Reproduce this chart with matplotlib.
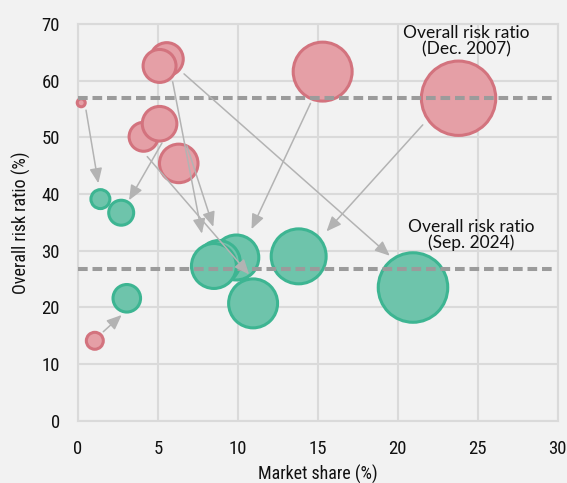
import matplotlib
matplotlib.use("Agg")
import matplotlib.pyplot as plt
from matplotlib import font_manager

# Market share (%), overall risk ratio (%) and bubble size, Dec. 2007
share_2007 = [0.2, 5.55, 5.1, 4.1, 5.1, 6.3, 15.3, 23.8, 1.05]
risk_2007 = [56.1, 63.8, 62.6, 50.1, 52.4, 45.4, 61.6, 56.9, 14.1]
size_2007 = [1.6, 27.2, 27.2, 21.0, 30.0, 37.2, 87.0, 138.4, 7.2]

# Market share (%), overall risk ratio (%) and bubble size, Sep. 2024
share_2024 = [1.4, 2.7, 3.05, 9.9, 8.8, 8.5, 10.95, 13.8, 20.95]
risk_2024 = [39.1, 36.7, 21.6, 28.8, 28.0, 27.3, 20.7, 29.0, 23.5]
size_2024 = [9.0, 15.6, 19.0, 50.6, 46.2, 50.6, 60.0, 75.6, 121.0]

# Overall risk ratio of the whole market
overall_2007 = 57.0
overall_2024 = 26.8

# Arrows from each 2007 position to its 2024 position
arrow_tail_x = [0.5, 1.58, 5.25, 4.33, 5.92, 6.81, 14.54, 21.56, 6.63]
arrow_tail_y = [54.8, 15.7, 49.0, 46.6, 59.8, 48.5, 56.0, 52.2, 61.2]
arrow_head_x = [1.27, 2.73, 3.19, 10.7, 7.75, 8.46, 10.85, 15.54, 19.5]
arrow_head_y = [41.9, 18.65, 38.9, 25.8, 33.0, 34.2, 33.8, 33.4, 29.1]

x_ticks = [0, 5, 10, 15, 20, 25, 30]
y_ticks = [0, 10, 20, 30, 40, 50, 60, 70]


def pick_narrow_font():
    """Return font properties for a narrow sans-serif face, best first."""
    entries = font_manager.fontManager.ttflist
    names = {f.name for f in entries}
    for fam in ("Liberation Sans Narrow", "Roboto Condensed", "Open Sans Condensed",
                "Noto Sans Condensed", "Noto Sans SemiCondensed", "Lato Condensed"):
        if fam in names:
            return dict(family=fam), 1.0
    for fam in ("Noto Sans", "Roboto", "Open Sans"):
        for f in entries:
            if f.name == fam and str(f.stretch) in ("condensed", "semi-condensed",
                                                      "extra-condensed", "75", "87.5"):
                return dict(family=fam, stretch=f.stretch), 1.0
    return dict(family="DejaVu Sans", stretch="condensed"), 0.92


axis_font, size_factor = pick_narrow_font()
installed = {f.name for f in font_manager.fontManager.ttflist}
note_font = "Lato" if "Lato" in installed else "DejaVu Sans"

BG = "#f2f2f2"
GRID = "#dadada"
RED_FILL, RED_EDGE = "#e59fa6", "#d3737e"
GREEN_FILL, GREEN_EDGE = "#6ec4ab", "#3db592"
DASH = "#9b9b9b"
ARROW = "#b3b3b3"
TEXT = "#111111"

fig = plt.figure(figsize=(5.67, 4.83), dpi=100, facecolor=BG)
ax = fig.add_axes([0.1376, 0.129, 0.8460, 0.8213], facecolor=BG)

scale = 20.7
ax.scatter(share_2007, risk_2007, s=[v * scale for v in size_2007],
           color=RED_FILL, edgecolors=RED_EDGE, linewidths=2.2,
           zorder=3, clip_on=False)
ax.scatter(share_2024, risk_2024, s=[v * scale for v in size_2024],
           color=GREEN_FILL, edgecolors=GREEN_EDGE, linewidths=2.2,
           zorder=3, clip_on=False)

for level in (overall_2007, overall_2024):
    ax.plot([0, 29.8], [level, level], color=DASH, lw=2.9,
            dashes=(2.4, 1.2), zorder=4, solid_capstyle="butt")

for tx, ty, hx, hy in zip(arrow_tail_x, arrow_tail_y, arrow_head_x, arrow_head_y):
    ax.annotate("", xy=(hx, hy), xytext=(tx, ty),
                arrowprops=dict(arrowstyle="-|>,head_length=0.9,head_width=0.38",
                                color=ARROW, lw=1.1, shrinkA=0, shrinkB=0),
                zorder=5)

ax.text(24.3, 67.0, "Overall risk ratio\n(Dec. 2007)", ha="center", va="center",
        fontsize=12.5, family=note_font, linespacing=1.0, color=TEXT, zorder=6)
ax.text(24.6, 32.8, "Overall risk ratio\n(Sep. 2024)", ha="center", va="center",
        fontsize=12.5, family=note_font, linespacing=1.0, color=TEXT, zorder=6)

tick_size = 13.5 * size_factor
label_size = 13.0 * size_factor

ax.set_xlim(0, 30)
ax.set_ylim(0, 70)
ax.set_xticks(x_ticks)
ax.set_yticks(y_ticks)
ax.set_xticklabels([str(t) for t in x_ticks], fontsize=tick_size, **axis_font)
ax.set_yticklabels([str(t) for t in y_ticks], fontsize=tick_size, **axis_font)
ax.tick_params(length=0, pad=14, colors=TEXT)
ax.tick_params(axis="y", pad=13)
ax.grid(True, color=GRID, lw=1.5, zorder=0)
ax.set_axisbelow(True)
for sp in ax.spines.values():
    sp.set_color(GRID)
    sp.set_linewidth(1.5)

ax.set_xlabel("Market share (%)", fontsize=label_size, color=TEXT, **axis_font)
ax.set_ylabel("Overall risk ratio (%)", fontsize=label_size, color=TEXT, **axis_font)
ax.xaxis.set_label_coords(0.5, -0.111)
ax.yaxis.set_label_coords(-0.097, 0.5)

fig.savefig("out.png", dpi=100, facecolor=BG)
